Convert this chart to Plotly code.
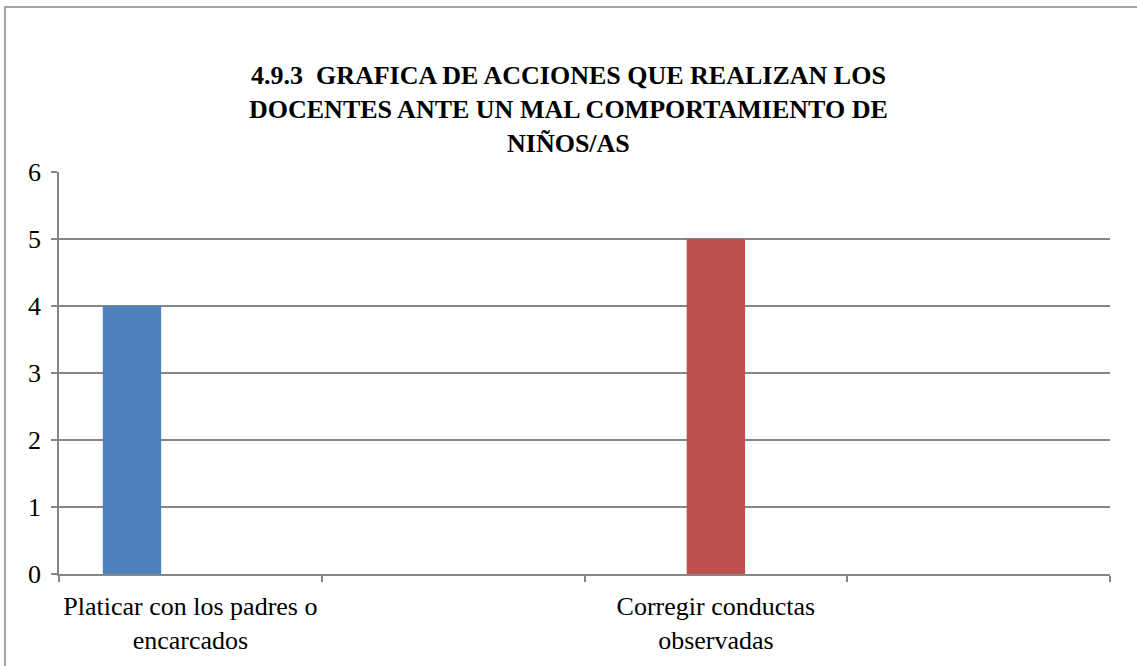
import plotly.graph_objects as go

# Categories on the horizontal axis (second and fourth carry no printed label)
categorias = ["Platicar con los padres o<br>encarcados", " ",
              "Corregir conductas<br>observadas", "  "]

# Series values per category
serie_1 = [4, None, None, None]
serie_2 = [None, None, 5, None]
serie_3 = [None, None, None, None]

titulo = ("<b>4.9.3  GRAFICA DE ACCIONES QUE REALIZAN LOS<br>"
          "DOCENTES ANTE UN MAL COMPORTAMIENTO DE<br>NIÑOS/AS</b>")

fuente = "Liberation Serif"
gris = "#868686"

fig = go.Figure()
for nombre, valores, color in [("Serie 1", serie_1, "#4F81BD"),
                               ("Serie 2", serie_2, "#C0504D"),
                               ("Serie 3", serie_3, "#9BBB59")]:
    fig.add_trace(go.Bar(x=categorias, y=valores, name=nombre,
                         marker=dict(color=color, line=dict(width=0)),
                         hoverinfo="skip"))

fig.update_layout(
    width=1137, height=666,
    margin=dict(l=59, r=27, t=172, b=92),
    paper_bgcolor="white", plot_bgcolor="white",
    barmode="group", bargap=1.5 / 4.5, bargroupgap=0,
    showlegend=False,
    xaxis=dict(
        type="category", tickson="boundaries", ticks="outside", ticklen=6,
        tickcolor=gris, tickwidth=1.5, showgrid=False, tickangle=0,
        automargin=False, ticklabelstandoff=8,
        showline=True, linecolor=gris, linewidth=1.5,
        tickfont=dict(family=fuente, size=26, color="#000000"),
    ),
    yaxis=dict(
        range=[0, 6], dtick=1, ticks="outside", ticklen=6, tickcolor=gris,
        tickwidth=1.5, showgrid=True, gridcolor=gris, gridwidth=1.5,
        automargin=False, ticklabelstandoff=5,
        showline=True, linecolor=gris, linewidth=1.5, zeroline=False,
        tickfont=dict(family=fuente, size=26, color="#000000"),
    ),
)

# Chart title, centred on the full chart width
fig.add_annotation(
    text=titulo, xref="paper", yref="paper",
    x=(568.5 - 59) / 1051, y=(574 - 110) / 402,
    xanchor="center", yanchor="middle", showarrow=False, align="center",
    font=dict(family=fuente, size=26, color="#000000"),
)

# Outer chart frame
fig.add_shape(type="rect", xref="paper", yref="paper",
              x0=(5 - 59) / 1051, x1=(1145 - 59) / 1051,
              y0=(574 - 680) / 402, y1=(574 - 7) / 402,
              line=dict(color=gris, width=1.5), fillcolor="rgba(0,0,0,0)", layer="below")

fig.write_html("out.html")
